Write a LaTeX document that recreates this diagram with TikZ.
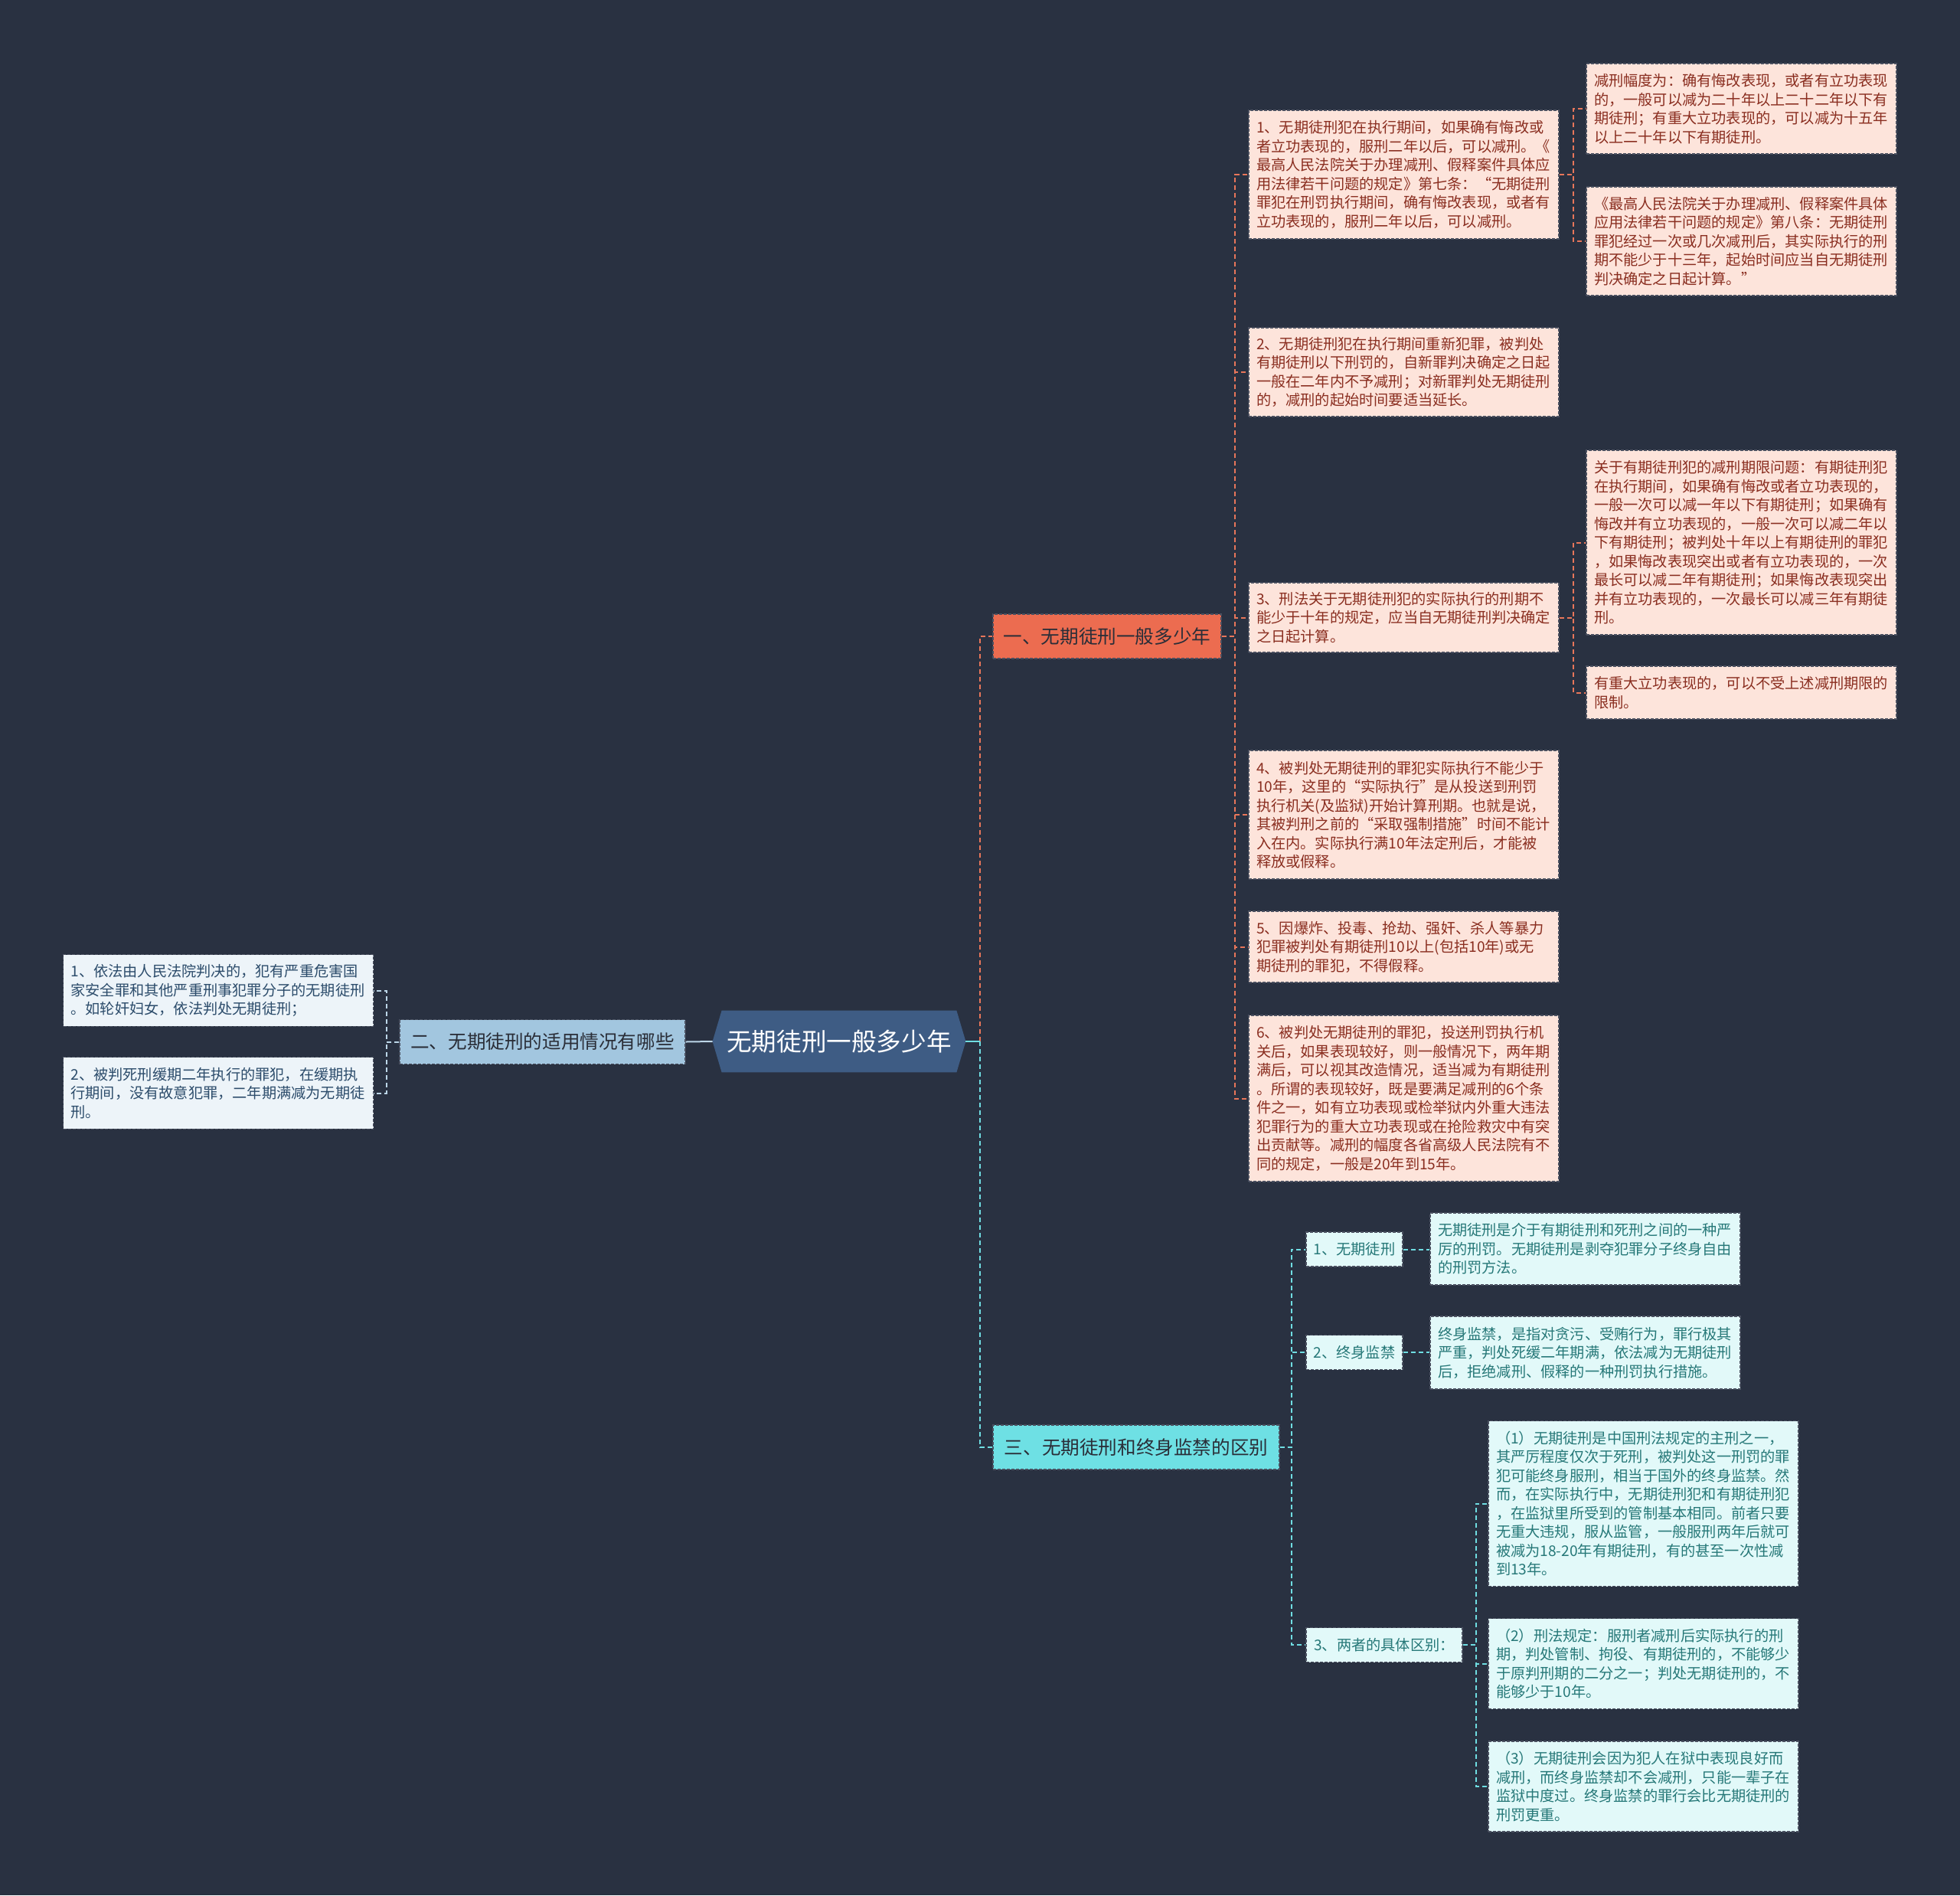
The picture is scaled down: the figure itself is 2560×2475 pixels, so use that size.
\documentclass[tikz,border=0pt]{standalone}
\usepackage{fontspec}
\setmainfont{Noto Sans CJK SC}
\usetikzlibrary{calc,backgrounds}
\definecolor{bgcol}{HTML}{293141}
\definecolor{rootfill}{HTML}{3E5C84}
\definecolor{onefill}{HTML}{EC6C50}
\definecolor{twofill}{HTML}{A2C6DF}
\definecolor{threefill}{HTML}{6EE0E4}
\definecolor{pinkfill}{HTML}{FDE4DB}
\definecolor{pinktext}{HTML}{8A2E20}
\definecolor{bluefill}{HTML}{EDF4F9}
\definecolor{bluetext}{HTML}{2C4C6B}
\definecolor{cyanfill}{HTML}{E2F9F9}
\definecolor{cyantext}{HTML}{267878}
\definecolor{branchtext}{HTML}{2A2E38}
\definecolor{edgecol}{HTML}{4A5060}
\definecolor{ocol}{HTML}{E8765A}
\definecolor{ccol}{HTML}{6FDDE2}
\definecolor{bcol}{HTML}{BCD6E8}
\newcommand{\leaffont}{\fontsize{9.6pt}{12.25pt}\selectfont}
\newcommand{\branchfont}{\fontsize{12.3pt}{15pt}\selectfont}
\newcommand{\rootfont}{\fontsize{16.3pt}{19pt}\selectfont}
\tikzset{
  boxedge/.style={draw=edgecol, dash pattern=on 2pt off 1pt, line width=0.6pt},
  leafbox/.style={rectangle, boxedge, inner xsep=5pt, inner ysep=0pt,
    text width=192.5pt, align=left, font=\leaffont},
  pinkbox/.style={leafbox, fill=pinkfill, text=pinktext},
  bluebox/.style={leafbox, fill=bluefill, text=bluetext},
  cyanbox/.style={leafbox, fill=cyanfill, text=cyantext},
  subbox/.style={rectangle, boxedge, fill=cyanfill, text=cyantext, font=\leaffont,
    inner sep=0pt, minimum height=22.5pt},
  branchbox/.style={rectangle, boxedge, font=\branchfont, inner sep=0pt,
    minimum height=29pt, text=branchtext},
  rootbox/.style={rectangle, inner sep=0pt, minimum width=165pt, minimum height=40pt,
    text=white, font=\rootfont},
  conn/.style={line width=1pt, dash pattern=on 3pt off 2pt},
  oline/.style={conn, draw=ocol},
  cline/.style={conn, draw=ccol},
  bline/.style={conn, draw=bcol},
}
\begin{document}
\begin{tikzpicture}[x=0.5pt, y=-0.5pt]
\begin{pgfonlayer}{background}
\fill[bgcol] (0,0) rectangle (2560,2475);
\end{pgfonlayer}
\useasboundingbox (0,0) rectangle (2560,2475);

% bus coordinates
\coordinate (busC) at (1280,0);
\coordinate (bus1) at (1613,0);
\coordinate (bus1s) at (2055,0);
\coordinate (bus2) at (505,0);
\coordinate (bus3) at (1687,0);
\coordinate (busT) at (1928,0);

% root
\node[rootbox] (C) at (1096,1360) {无期徒刑一般多少年};
\begin{pgfonlayer}{background}
\fill[rootfill] (C.west) -- ($(C.north west)+(12,0)$) -- ($(C.north east)+(-12,0)$)
  -- (C.east) -- ($(C.south east)+(-12,0)$) -- ($(C.south west)+(12,0)$) -- cycle;
\end{pgfonlayer}

% branches
\node[branchbox, fill=onefill, minimum width=149pt] (B1) at (1446,831) {一、无期徒刑一般多少年};
\node[branchbox, fill=twofill, minimum width=186.5pt] (B2) at (708.5,1360.5) {二、无期徒刑的适用情况有哪些};
\node[branchbox, fill=threefill, minimum width=187pt] (B3) at (1484,1890) {三、无期徒刑和终身监禁的区别};

% branch one leaves
\node[pinkbox, minimum height=84pt] (P1) at (1833.5,228) {1、无期徒刑犯在执行期间，如果确有悔改或\\者立功表现的，服刑二年以后，可以减刑。《\\最高人民法院关于办理减刑、假释案件具体应\\用法律若干问题的规定》第七条：“无期徒刑\\罪犯在刑罚执行期间，确有悔改表现，或者有\\立功表现的，服刑二年以后，可以减刑。};
\node[pinkbox, minimum height=59pt] (P1a) at (2274.5,142) {减刑幅度为：确有悔改表现，或者有立功表现\\的，一般可以减为二十年以上二十二年以下有\\期徒刑；有重大立功表现的，可以减为十五年\\以上二十年以下有期徒刑。};
\node[pinkbox, minimum height=71pt] (P1b) at (2274.5,315) {《最高人民法院关于办理减刑、假释案件具体\\应用法律若干问题的规定》第八条：无期徒刑\\罪犯经过一次或几次减刑后，其实际执行的刑\\期不能少于十三年，起始时间应当自无期徒刑\\判决确定之日起计算。”};
\node[pinkbox, minimum height=58pt] (P2) at (1833.5,486) {2、无期徒刑犯在执行期间重新犯罪，被判处\\有期徒刑以下刑罚的，自新罪判决确定之日起\\一般在二年内不予减刑；对新罪判处无期徒刑\\的，减刑的起始时间要适当延长。};
\node[pinkbox, minimum height=45.5pt] (P3) at (1833.5,806.5) {3、刑法关于无期徒刑犯的实际执行的刑期不\\能少于十年的规定，应当自无期徒刑判决确定\\之日起计算。};
\node[pinkbox, minimum height=120.5pt] (P3a) at (2274.5,708.5) {关于有期徒刑犯的减刑期限问题：有期徒刑犯\\在执行期间，如果确有悔改或者立功表现的，\\一般一次可以减一年以下有期徒刑；如果确有\\悔改并有立功表现的，一般一次可以减二年以\\下有期徒刑；被判处十年以上有期徒刑的罪犯\\，如果悔改表现突出或者有立功表现的，一次\\最长可以减二年有期徒刑；如果悔改表现突出\\并有立功表现的，一次最长可以减三年有期徒\\刑。};
\node[pinkbox, minimum height=34.5pt] (P3b) at (2274.5,904.5) {有重大立功表现的，可以不受上述减刑期限的\\限制。};
\node[pinkbox, minimum height=84pt] (P4) at (1833.5,1064) {4、被判处无期徒刑的罪犯实际执行不能少于\\10年，这里的“实际执行”是从投送到刑罚\\执行机关(及监狱)开始计算刑期。也就是说，\\其被判刑之前的“采取强制措施”时间不能计\\入在内。实际执行满10年法定刑后，才能被\\释放或假释。};
\node[pinkbox, minimum height=46.5pt] (P5) at (1833.5,1236.5) {5、因爆炸、投毒、抢劫、强奸、杀人等暴力\\犯罪被判处有期徒刑10以上(包括10年)或无\\期徒刑的罪犯，不得假释。};
\node[pinkbox, minimum height=108.5pt] (P6) at (1833.5,1434.5) {6、被判处无期徒刑的罪犯，投送刑罚执行机\\关后，如果表现较好，则一般情况下，两年期\\满后，可以视其改造情况，适当减为有期徒刑\\。所谓的表现较好，既是要满足减刑的6个条\\件之一，如有立功表现或检举狱内外重大违法\\犯罪行为的重大立功表现或在抢险救灾中有突\\出贡献等。减刑的幅度各省高级人民法院有不\\同的规定，一般是20年到15年。};

% branch two leaves
\node[bluebox, minimum height=46.75pt] (L1) at (285,1293.5) {1、依法由人民法院判决的，犯有严重危害国\\家安全罪和其他严重刑事犯罪分子的无期徒刑\\。如轮奸妇女，依法判处无期徒刑；};
\node[bluebox, minimum height=46.75pt] (L2) at (285,1427.5) {2、被判死刑缓期二年执行的罪犯，在缓期执\\行期间，没有故意犯罪，二年期满减为无期徒\\刑。};

% branch three
\node[subbox, minimum width=63pt] (S1) at (1769,1631.5) {1、无期徒刑};
\node[subbox, minimum width=63pt] (S2) at (1769,1766) {2、终身监禁};
\node[subbox, minimum width=102pt] (S3) at (1808,2148) {3、两者的具体区别：};
\node[cyanbox, minimum height=47pt] (S1L) at (2070.5,1631) {无期徒刑是介于有期徒刑和死刑之间的一种严\\厉的刑罚。无期徒刑是剥夺犯罪分子终身自由\\的刑罚方法。};
\node[cyanbox, minimum height=47.5pt] (S2L) at (2070.5,1766.5) {终身监禁，是指对贪污、受贿行为，罪行极其\\严重，判处死缓二年期满，依法减为无期徒刑\\后，拒绝减刑、假释的一种刑罚执行措施。};
\node[cyanbox, minimum height=108pt] (T1) at (2146.5,1963.5) {（1）无期徒刑是中国刑法规定的主刑之一，\\其严厉程度仅次于死刑，被判处这一刑罚的罪\\犯可能终身服刑，相当于国外的终身监禁。然\\而，在实际执行中，无期徒刑犯和有期徒刑犯\\，在监狱里所受到的管制基本相同。前者只要\\无重大违规，服从监管，一般服刑两年后就可\\被减为18-20年有期徒刑，有的甚至一次性减\\到13年。};
\node[cyanbox, minimum height=59pt] (T2) at (2146.5,2172.5) {（2）刑法规定：服刑者减刑后实际执行的刑\\期，判处管制、拘役、有期徒刑的，不能够少\\于原判刑期的二分之一；判处无期徒刑的，不\\能够少于10年。};
\node[cyanbox, minimum height=59pt] (T3) at (2146.5,2333) {（3）无期徒刑会因为犯人在狱中表现良好而\\减刑，而终身监禁却不会减刑，只能一辈子在\\监狱中度过。终身监禁的罪行会比无期徒刑的\\刑罚更重。};

% connectors: root
\draw[oline] (C.east -| busC) |- (B1.west);
\draw[cline] (C.east -| busC) |- (B3.west);
\draw[draw=ccol, line width=1pt] (C.east) -- (C.east -| busC);
\draw[draw=bcol, line width=1pt] (B2.east) -- (C.west);

% branch one
\foreach \n in {P1,P2,P3,P4,P5,P6}{
  \draw[oline] (B1.east) -- (B1.east -| bus1) |- (\n.west);
}
\draw[oline] (P1.east) -- (P1.east -| bus1s) |- (P1a.west);
\draw[oline] (P1.east) -- (P1.east -| bus1s) |- (P1b.west);
\draw[oline] (P3.east) -- (P3.east -| bus1s) |- (P3a.west);
\draw[oline] (P3.east) -- (P3.east -| bus1s) |- (P3b.west);

% branch two
\draw[bline] (B2.west) -- (B2.west -| bus2) |- (L1.east);
\draw[bline] (B2.west) -- (B2.west -| bus2) |- (L2.east);

% branch three
\foreach \n in {S1,S2,S3}{
  \draw[cline] (B3.east) -- (B3.east -| bus3) |- (\n.west);
}
\draw[cline] (S1.east) -- (S1L.west |- S1.east);
\draw[cline] (S2.east) -- (S2L.west |- S2.east);
\foreach \n in {T1,T2,T3}{
  \draw[cline] (S3.east) -- (S3.east -| busT) |- (\n.west);
}
\end{tikzpicture}
\end{document}
